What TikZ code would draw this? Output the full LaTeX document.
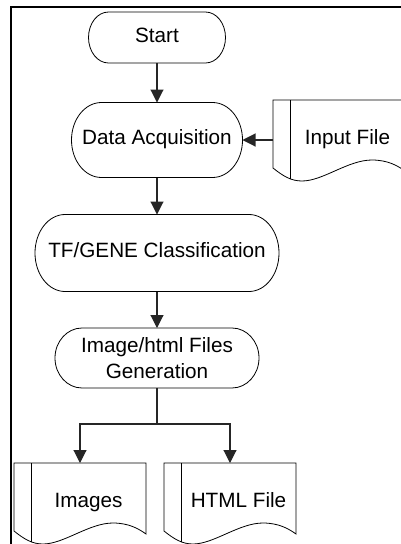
\documentclass[tikz,border=0pt]{standalone}
\usepackage{fontspec}
\setmainfont{Liberation Sans}
\usetikzlibrary{arrows.meta}

% terminator outline with elliptical ends: node, end x radius, half height
\newcommand\capsule[3]{%
  \draw[outline] ([xshift=#2]#1.north west) -- ([xshift=-#2]#1.north east)
    arc[start angle=90,end angle=-90,x radius=#2,y radius=#3]
    -- ([xshift=#2]#1.south west)
    arc[start angle=270,end angle=90,x radius=#2,y radius=#3] -- cycle;}

% document symbol (wavy bottom, extra bar on the left), drawn around node #1
\def\docwave{(0,80) -- (132,80) -- (132,9)
  .. controls (125,14) and (115,20) .. (99,20)
  .. controls (75,20) and (50,-1) .. (29,-1)
  .. controls (18,-1) and (10,4) .. (0,12) -- cycle}
\newcommand\docshape[1]{%
  \begin{scope}[shift={(#1.south west)}]
    \draw[outline] \docwave;
    \begin{scope}
      \clip \docwave;
      \draw[outline] (17,85) -- (17,-10);
    \end{scope}
  \end{scope}}

\tikzset{
  outline/.style={draw=black, line width=0.8pt},
  conn/.style={draw=black!85, line width=1.1pt},
  tip/.style={-{Triangle[length=13pt,width=13pt]}},
  base/.style={inner sep=0pt, outer sep=0pt, draw=none,
    font=\fontsize{20.7}{26}\selectfont},
  terminal/.style={base, text height=0.9em, text depth=0pt},
  docnode/.style={base, minimum width=132pt, minimum height=80pt,
    text height=0.9em, text depth=0pt},
  frame/.style={draw=black, line width=2pt},
}

\begin{document}
\begin{tikzpicture}[x=1pt,y=1pt]
  \clip (0,0) rectangle (401,-544);

  % outer frame
  \draw[frame] (11,-560) -- (11,-7) -- (420,-7);

  % process nodes
  \node[terminal, minimum width=137pt, minimum height=51pt] (start) at (157,-37.5) {Start};
  \node[terminal, minimum width=171pt, minimum height=75pt] (acq) at (157,-140) {Data Acquisition};
  \node[terminal, minimum width=244pt, minimum height=77pt] (classify) at (157,-253) {TF/GENE Classification};
  \node[base, align=center, minimum width=204pt, minimum height=60pt] (gen) at (157,-358) {Image/html Files\\Generation};

  \capsule{start}{20pt}{25.5pt}
  \capsule{acq}{30pt}{37.5pt}
  \capsule{classify}{30pt}{38.5pt}
  \capsule{gen}{27pt}{30pt}

  % documents
  \node[docnode] (input) at (339,-140) {\hspace*{17pt}Input File};
  \node[docnode] (images) at (80,-503) {\hspace*{17pt}Images};
  \node[docnode] (html) at (230,-503) {\hspace*{17pt}HTML File};

  \docshape{input}
  \docshape{images}
  \docshape{html}

  % connectors
  \draw[conn, tip] (start.south) -- (acq.north);
  \draw[conn, tip] (input.west) -- (acq.east);
  \draw[conn, tip] (acq.south) -- (classify.north);
  \draw[conn, tip] (classify.south) -- (gen.north);
  \draw[conn] (gen.south) -- ++(0,-36) coordinate (split);
  \draw[conn, tip] (split) -| (images.north);
  \draw[conn, tip] (split) -| (html.north);
\end{tikzpicture}
\end{document}
